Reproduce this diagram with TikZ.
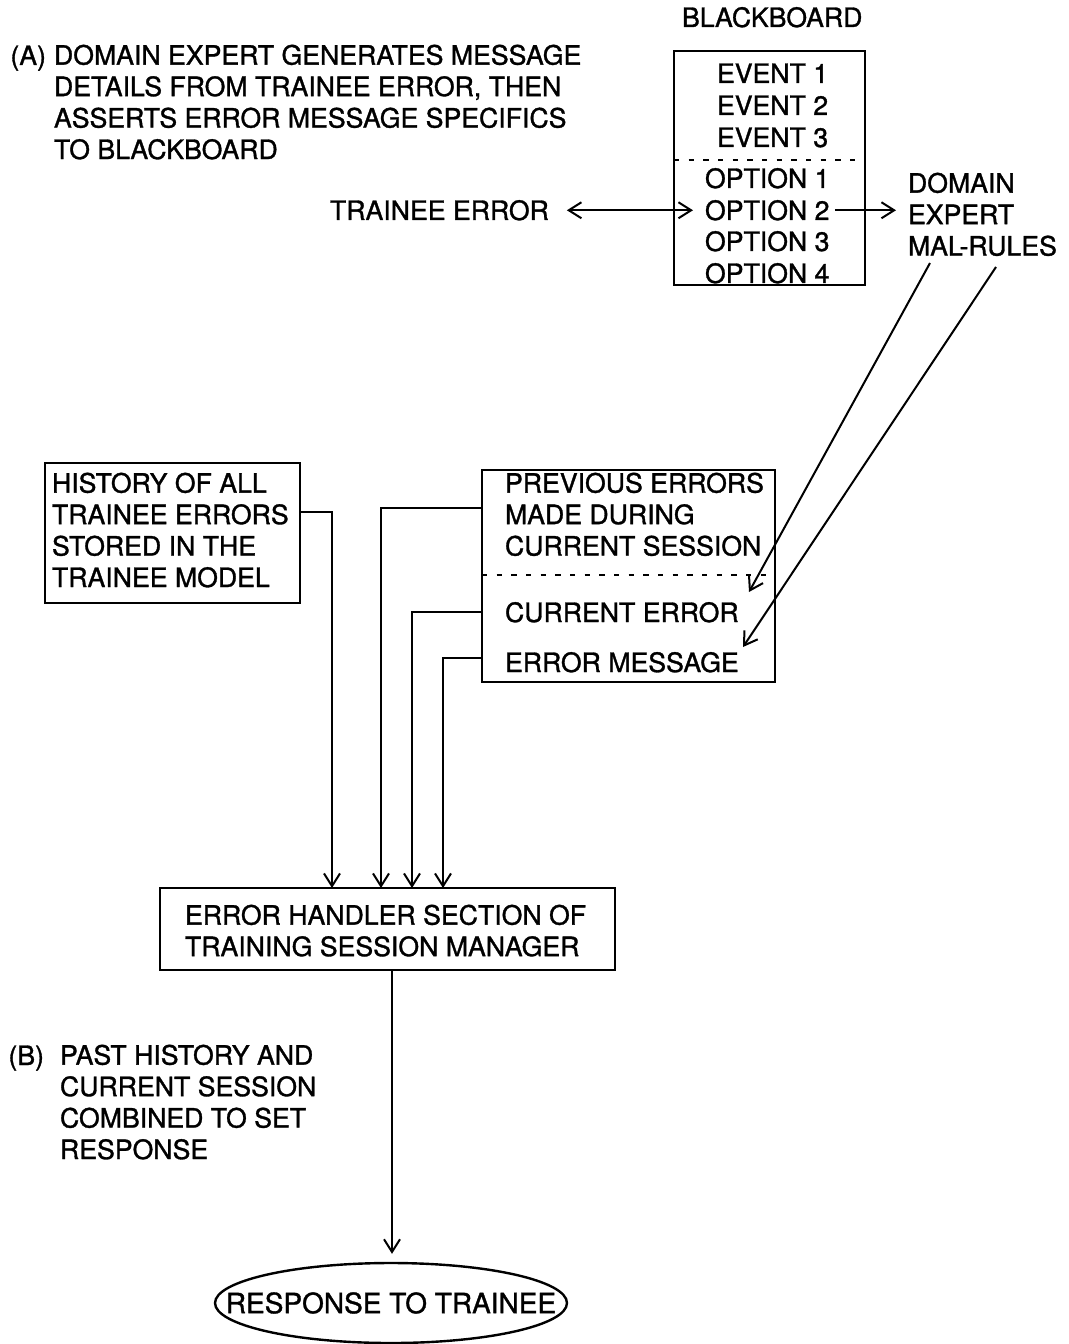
\documentclass[tikz,border=0pt]{standalone}
\usepackage{fontspec}
\setmainfont{TeX Gyre Heros}[FakeBold=1.2]
\usetikzlibrary{arrows.meta,shapes.geometric,fit}
\newcommand\fs{\fontsize{20}{23.6}\selectfont}
\begin{document}
\begin{tikzpicture}[x=0.75pt,y=-0.75pt, line width=1.5pt,
  >={Straight Barb[length=9.5pt,width=12pt]},
  box/.style={draw, line width=1.8pt, inner sep=0, outer sep=0},
  lbl/.style={inner sep=0, outer sep=0, anchor=base west, font=\fs},
  blk/.style={inner sep=0, outer sep=0, anchor=north west, align=left, font=\fs},
  dots/.style={line width=1.6pt, dash pattern=on 4pt off 7pt}]
\useasboundingbox (0,0) rectangle (1069,1344);

% (A) caption
\node[lbl, anchor=base east] (alab) at (46,65) {(A)};
\node[blk] (ta) at (54,42.6) {\strut DOMAIN EXPERT GENERATES MESSAGE\\DETAILS FROM TRAINEE ERROR, THEN\\ASSERTS ERROR MESSAGE SPECIFICS\\TO BLACKBOARD};

% blackboard
\node[lbl] (bbt) at (682,27) {BLACKBOARD};
\node[box, fit={(674,51) (865,285)}] (bb) {};
\draw[dots] (bb.west |- 0,160) -- (bb.east |- 0,160);
\node[lbl] (ev1) at (717,83) {EVENT 1};
\node[lbl] (ev2) at (717,115) {EVENT 2};
\node[lbl] (ev3) at (717,147) {EVENT 3};
\node[lbl] (op1) at (705,188) {OPTION 1};
\node[lbl] (op2) at (705,220) {OPTION 2};
\node[lbl] (op3) at (705,251) {OPTION 3};
\node[lbl] (op4) at (705,283) {OPTION 4};

\node[lbl] (te) at (330,220) {TRAINEE ERROR};
\draw[<->, shorten <=13.5pt, shorten >=9pt] (te.east) -- (te.east -| op2.west);

\node[blk] (dom) at (908,170.6) {\strut DOMAIN\\EXPERT\\MAL-RULES};
\draw[->, shorten <=4pt, shorten >=9pt] (op2.east) -- (op2.east -| dom.west);

% mal-rules arrows
\coordinate (m1) at (930,263);
\coordinate (m2) at (996,267);
\coordinate (t1) at (749,592);
\coordinate (t2) at (743,647);
\draw[->] (m1) -- (t1);
\draw[->] (m2) -- (t2);

% history box
\node[box, fit={(45,463) (300,603)}] (hist) {};
\node[blk] (histt) at (52,470.6) {\strut HISTORY OF ALL\\TRAINEE ERRORS\\STORED IN THE\\TRAINEE MODEL};

% previous errors box
\node[box, fit={(482,470) (775,682)}] (pe) {};
\draw[dots] (pe.west |- 0,575) -- (pe.east |- 0,575);
\node[blk] (pet) at (505,470.6) {\strut PREVIOUS ERRORS\\MADE DURING\\CURRENT SESSION};
\node[lbl] (ce) at (505,622) {CURRENT ERROR};
\node[lbl] (em) at (505,672) {ERROR MESSAGE};

% error handler
\node[box, fit={(160,888) (615,970)}] (eh) {};
\node[blk] (eht) at (185,902.6) {\strut ERROR HANDLER SECTION OF\\TRAINING SESSION MANAGER};

\draw[->] (hist.east |- 0,512) -| (332,0 |- eh.north);
\draw[->] (pe.west |- 0,508) -| (381,0 |- eh.north);
\draw[->] (pe.west |- 0,612) -| (412,0 |- eh.north);
\draw[->] (pe.west |- 0,658) -| (443,0 |- eh.north);

% (B) caption
\node[lbl, anchor=base east] (blab) at (44,1065) {(B)};
\node[blk] (tb) at (60,1042.6) {\strut PAST HISTORY AND\\CURRENT SESSION\\COMBINED TO SET\\RESPONSE};

% response
\node[draw, ellipse, line width=1.8pt, minimum width=264pt, minimum height=60pt, inner sep=0] (resp) at (391,1303) {};
\node[inner sep=0, font=\fontsize{21}{24}\selectfont] (respt) at (resp.center) {RESPONSE TO TRAINEE};
\draw[->, shorten >=6pt] (392,0 |- eh.south) -- (392,0 |- resp.north);
\end{tikzpicture}
\end{document}
